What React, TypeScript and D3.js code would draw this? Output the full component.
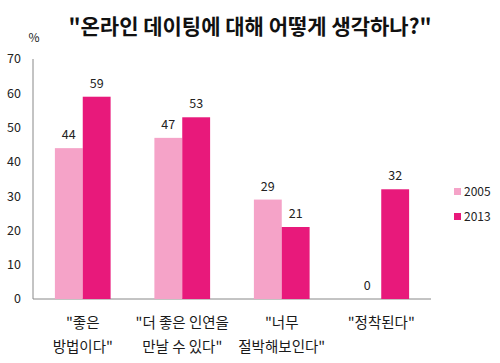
import React, { useRef, useEffect } from 'react';
import * as d3 from 'd3';

const categories = [
  ['"좋은', '방법이다"'],
  ['"더 좋은 인연을', '만날 수 있다"'],
  ['"너무', '절박해보인다"'],
  ['"정착된다"'],
];
const seriesNames = ['2005', '2013'];
const values2005 = [44, 47, 29, 0];
const values2013 = [59, 53, 21, 32];
const yTicks = [0, 10, 20, 30, 40, 50, 60, 70];

const colors = ['#f5a3c8', '#e8197b'];
const font = '"Noto Sans CJK KR", "Noto Sans", sans-serif';

const App = () => {
  const svgRef = useRef<SVGSVGElement>(null);

  useEffect(() => {
    const width = 500;
    const height = 363;
    const svg = d3.select(svgRef.current);
    svg.selectAll('*').remove();
    svg.attr('width', width).attr('height', height)
      .style('display', 'block')
      .style('position', 'absolute')
      .style('left', '0px')
      .style('top', '0px')
      .style('background', '#fff');

    const left = 33, right = 431, bottom = 299, top = 59;

    const x = d3.scaleBand<number>()
      .domain(categories.map((_, i) => i))
      .range([left, right])
      .paddingInner(0.44)
      .paddingOuter(0.22);
    const xs = d3.scaleBand<number>().domain([0, 1]).range([0, x.bandwidth()]);
    const y = d3.scaleLinear().domain([0, 70]).range([bottom, top]);

    // title
    svg.append('text')
      .attr('x', 250).attr('y', 34)
      .attr('text-anchor', 'middle')
      .attr('font-family', font)
      .attr('font-size', 21)
      .attr('font-weight', 'bold')
      .attr('fill', '#111')
      .text('"온라인 데이팅에 대해 어떻게 생각하나?"');

    svg.append('text')
      .attr('x', 34).attr('y', 42)
      .attr('text-anchor', 'middle')
      .attr('font-family', font)
      .attr('font-size', 12)
      .attr('fill', '#222')
      .text('%');

    // axes lines
    svg.append('line')
      .attr('x1', left).attr('x2', left)
      .attr('y1', y(70)).attr('y2', bottom)
      .attr('stroke', '#888').attr('stroke-width', 1);
    svg.append('line')
      .attr('x1', left).attr('x2', right)
      .attr('y1', bottom).attr('y2', bottom)
      .attr('stroke', '#888').attr('stroke-width', 1);

    svg.append('g')
      .selectAll('text')
      .data(yTicks)
      .enter()
      .append('text')
      .attr('x', 21)
      .attr('y', d => y(d))
      .attr('dy', '0.35em')
      .attr('text-anchor', 'end')
      .attr('font-family', font)
      .attr('font-size', 12.5)
      .attr('fill', '#222')
      .text(d => d);

    const series = [values2005, values2013];
    series.forEach((vals, s) => {
      const g = svg.append('g');
      g.selectAll('rect')
        .data(vals)
        .enter()
        .append('rect')
        .attr('x', (_, i) => (x(i) as number) + (xs(s) as number))
        .attr('y', d => y(d))
        .attr('width', xs.bandwidth())
        .attr('height', d => bottom - y(d))
        .attr('fill', colors[s]);
      g.selectAll('text')
        .data(vals)
        .enter()
        .append('text')
        .attr('x', (_, i) => (x(i) as number) + (xs(s) as number) + xs.bandwidth() / 2)
        .attr('y', d => y(d) - 9)
        .attr('text-anchor', 'middle')
        .attr('font-family', font)
        .attr('font-size', 12.5)
        .attr('fill', '#222')
        .text(d => d);
    });

    // category labels
    const cat = svg.append('g');
    categories.forEach((lines, i) => {
      const cx = (x(i) as number) + x.bandwidth() / 2;
      lines.forEach((line, j) => {
        cat.append('text')
          .attr('x', cx)
          .attr('y', 328 + j * 24)
          .attr('text-anchor', 'middle')
          .attr('font-family', font)
          .attr('font-size', 14.5)
          .attr('fill', '#1a1a1a')
          .text(line);
      });
    });

    // legend
    const legend = svg.append('g');
    seriesNames.forEach((name, i) => {
      legend.append('rect')
        .attr('x', 454).attr('y', 188 + i * 25)
        .attr('width', 7).attr('height', 7)
        .attr('fill', colors[i]);
      legend.append('text')
        .attr('x', 464).attr('y', 192 + i * 25)
        .attr('dy', '0.35em')
        .attr('font-family', font)
        .attr('font-size', 12)
        .attr('fill', '#222')
        .text(name);
    });
  }, []);

  return <svg ref={svgRef}></svg>;
};

export default App;
